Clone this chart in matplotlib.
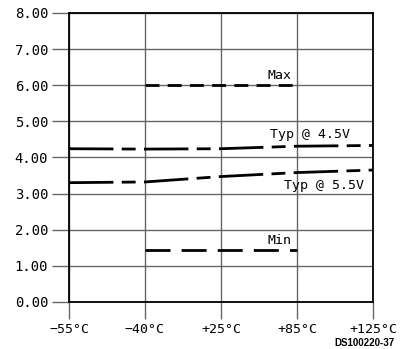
import numpy as np
import matplotlib.pyplot as plt

temps = ['\u221255\u00b0C', '\u221240\u00b0C', '+25\u00b0C', '+85\u00b0C', '+125\u00b0C']
yticks = [0, 1, 2, 3, 4, 5, 6, 7, 8]

max_x = [1, 3]
max_y = [6.0, 6.0]
min_x = [1, 3]
min_y = [1.45, 1.45]
typ45_x = [0, 1, 2, 3, 4]
typ45_y = [4.24, 4.23, 4.24, 4.31, 4.33]
typ55_x = [0, 1, 2, 3, 4]
typ55_y = [3.30, 3.32, 3.47, 3.58, 3.65]

fig = plt.figure(figsize=(4.01, 3.49), dpi=100, facecolor='w')
ax = fig.add_axes([0.172, 0.135, 0.758, 0.828])

mono = 'DejaVu Sans Mono'

ax.plot(max_x, max_y, color='k', lw=2, dashes=(5, 3))
ax.plot(min_x, min_y, color='k', lw=2, dashes=(9, 4))
ax.plot(typ45_x, typ45_y, color='k', lw=2, dashes=(16, 3, 5, 3))
ax.plot(typ55_x, typ55_y, color='k', lw=2, dashes=(16, 3, 5, 3))

ax.text(2.93, 6.08, 'Max', ha='right', va='bottom', fontsize=9.5, family=mono)
ax.text(3.70, 4.45, 'Typ @ 4.5V', ha='right', va='bottom', fontsize=9.5, family=mono)
ax.text(3.88, 3.05, 'Typ @ 5.5V', ha='right', va='bottom', fontsize=9.5, family=mono)
ax.text(2.93, 1.53, 'Min', ha='right', va='bottom', fontsize=9.5, family=mono)

ax.set_xlim(0, 4)
ax.set_ylim(0, 8)
ax.set_xticks(range(len(temps)))
ax.set_xticklabels(temps, family=mono, fontsize=9.5)
ax.set_yticks(yticks)
ax.set_yticklabels(['%.2f' % v for v in yticks], family=mono, fontsize=10)
ax.tick_params(direction='out', length=12, width=1, color='#666666', pad=3)
ax.grid(True, color='#666666', lw=1)
for s in ax.spines.values():
    s.set_linewidth(1.3)

fig.text(0.985, 0.003, 'DS100220-37', ha='right', va='bottom', fontsize=7,
         family='Liberation Sans', weight='bold')

plt.savefig('out.png', dpi=100)
